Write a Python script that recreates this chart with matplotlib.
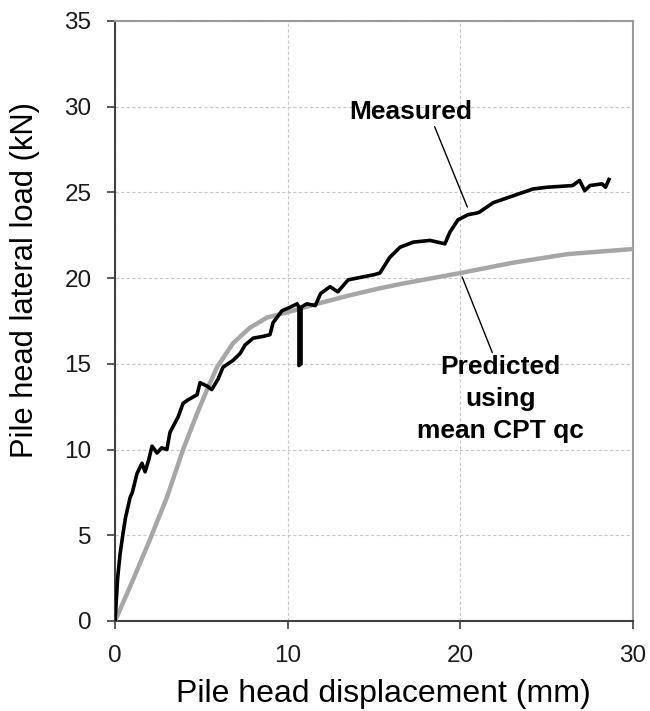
import numpy as np
import matplotlib
matplotlib.use('Agg')
import matplotlib.pyplot as plt

plt.rcParams['font.family'] = ['Liberation Sans', 'DejaVu Sans']

# measured pile head response
meas_x = [0.0, 0.15, 0.29, 0.46, 0.6, 0.87, 1.0, 1.27, 1.56, 1.74, 1.95, 2.14, 2.43, 2.7, 3.0,
          3.18, 3.65, 3.94, 4.23, 4.75, 4.92, 5.33, 5.6, 5.96, 6.25, 6.83, 7.24, 7.53, 8.0,
          8.57, 8.97, 9.15, 9.67, 10.13, 10.54, 10.65, 10.65, 10.77, 10.77, 11.1, 11.6, 11.9,
          12.45, 12.9, 13.5, 14.0, 14.5, 15.0, 15.34, 15.9, 16.5, 17.27, 18.24, 19.1, 19.4,
          19.86, 20.44, 20.96, 21.1, 21.9, 23.05, 24.2, 25.0, 26.5, 26.9, 27.2, 27.5, 28.2,
          28.4, 28.6]
meas_y = [0.0, 2.5, 3.9, 5.1, 6.0, 7.2, 7.5, 8.6, 9.2, 8.7, 9.4, 10.2, 9.8, 10.1, 10.0,
          11.0, 11.9, 12.7, 12.9, 13.2, 13.9, 13.7, 13.5, 14.1, 14.8, 15.2, 15.6, 16.1, 16.5,
          16.6, 16.7, 17.4, 18.1, 18.3, 18.5, 18.3, 14.9, 15.0, 18.3, 18.5, 18.4, 19.1,
          19.5, 19.2, 19.9, 20.0, 20.1, 20.2, 20.3, 21.2, 21.8, 22.1, 22.2, 22.0, 22.7,
          23.4, 23.7, 23.8, 23.85, 24.4, 24.8, 25.2, 25.3, 25.4, 25.7, 25.1, 25.4, 25.5,
          25.3, 25.75]

# predicted using mean CPT qc
pred_x = [0.0, 1.04, 2.0, 3.0, 3.94, 4.75, 5.33, 5.9, 6.83, 7.8, 8.8, 9.96, 11.7, 13.6,
          15.3, 16.5, 20.0, 23.05, 26.2, 30.0]
pred_y = [0.0, 2.4, 4.7, 7.2, 10.0, 12.1, 13.5, 14.8, 16.2, 17.1, 17.7, 18.0, 18.5, 19.0,
          19.4, 19.65, 20.3, 20.9, 21.4, 21.7]

fig = plt.figure(figsize=(6.5, 7.11), dpi=100)
ax = fig.add_axes([0.177, 0.1266, 0.797, 0.8439])

ax.plot(pred_x, pred_y, color='#a6a6a6', lw=3.2, solid_capstyle='round', zorder=3)
ax.plot(meas_x, meas_y, color='black', lw=2.6, solid_joinstyle='round', zorder=4)

ax.set_xlim(0, 30)
ax.set_ylim(0, 35)
ax.set_xticks([0, 10, 20, 30])
ax.set_yticks(np.arange(0, 36, 5))
ax.grid(True, color='#c8c8c8', linestyle=(0, (3, 2)), lw=0.8)
ax.set_axisbelow(True)

for s in ['top', 'right']:
    ax.spines[s].set_color('#9a9a9a')
    ax.spines[s].set_linewidth(1.5)
for s in ['left', 'bottom']:
    ax.spines[s].set_color('#404040')
    ax.spines[s].set_linewidth(1.5)

ax.tick_params(direction='out', length=5.5, width=1.2, color='#404040',
               labelsize=17.5, pad=11.5, labelcolor='#1a1a1a')
ax.set_xlabel('Pile head displacement (mm)', fontsize=23)
ax.set_ylabel('Pile head lateral load (kN)', fontsize=22.2)
ax.xaxis.set_label_coords(0.517, -0.097)
ax.yaxis.set_label_coords(-0.145, 0.568)

ax.annotate('Measured', xy=(20.4, 24.15), xytext=(17.1, 29.7),
            fontsize=19, fontweight='bold', ha='center', va='center',
            arrowprops=dict(arrowstyle='-', color='black', lw=1,
                            shrinkA=0, shrinkB=0, relpos=(0.68, 0.1)))
ax.annotate('Predicted\nusing\nmean CPT qc', xy=(20.1, 20.07), xytext=(22.3, 12.95),
            fontsize=19, fontweight='bold', ha='center', va='center',
            linespacing=1.4,
            arrowprops=dict(arrowstyle='-', color='black', lw=1,
                            shrinkA=0, shrinkB=0, relpos=(0.47, 0.95)))

fig.savefig('out.png', dpi=100)
